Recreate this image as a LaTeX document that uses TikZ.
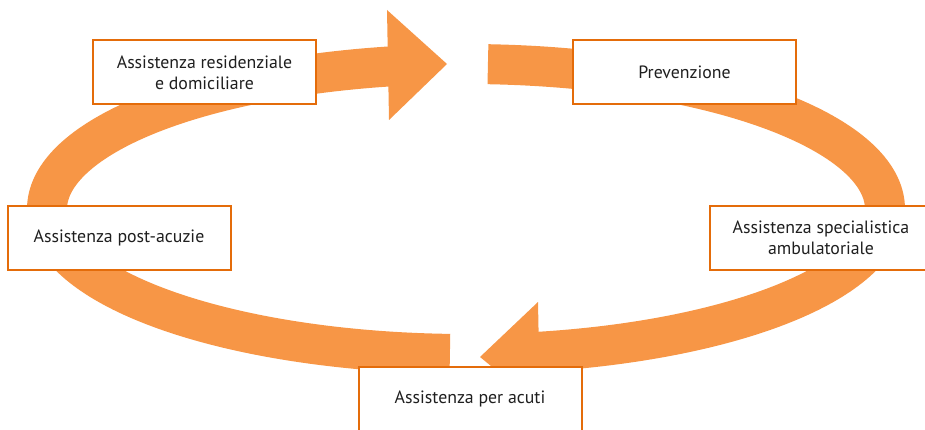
\documentclass[tikz,border=0pt]{standalone}
\usepackage{fontspec}
\setmainfont{PT Sans}
\definecolor{arrowfill}{HTML}{F79646}
\definecolor{boxline}{HTML}{E46C0A}
\begin{document}
\begin{tikzpicture}[x=1pt,y=-1pt,
  box/.style={draw=boxline, line width=2pt, fill=white, minimum width=223pt, minimum height=64pt, inner sep=0pt, align=center, font=\fontsize{17.8}{20.7}\selectfont, text=black!88},
  band/.style={draw=arrowfill, line width=40pt, line cap=butt},
  head/.style={fill=arrowfill, draw=none}]
\path[use as bounding box] (0,0) rectangle (925,430);
\clip (0,0) rectangle (925,430);
% left arrow (bottom -> left -> top)
\draw[band] plot[domain=99.8:267.8, samples=150, variable=\t] ({466+419*cos(\t)},{209-145*sin(\t)});
\fill[head] (387,10) -- (447,64) -- (389,120) -- cycle;
% right arrow (top -> right -> bottom)
\draw[band] plot[domain=-81.2:87, samples=150, variable=\t] ({466+419*cos(\t)},{209-145*sin(\t)});
\fill[head] (538,302) -- (480,357) -- (540,406) -- cycle;
% boxes
\node[box] (res) at (204.5,72.5) {Assistenza residenziale\\e domiciliare};
\node[box] (prev) at (684.5,72.5) {Prevenzione};
\node[box] (post) at (119,238) {Assistenza post-acuzie};
\node[box] (spec) at (821,238) {Assistenza specialistica\\ambulatoriale};
\node[box] (acuti) at (470,398.5) {Assistenza per acuti};
\end{tikzpicture}
\end{document}
